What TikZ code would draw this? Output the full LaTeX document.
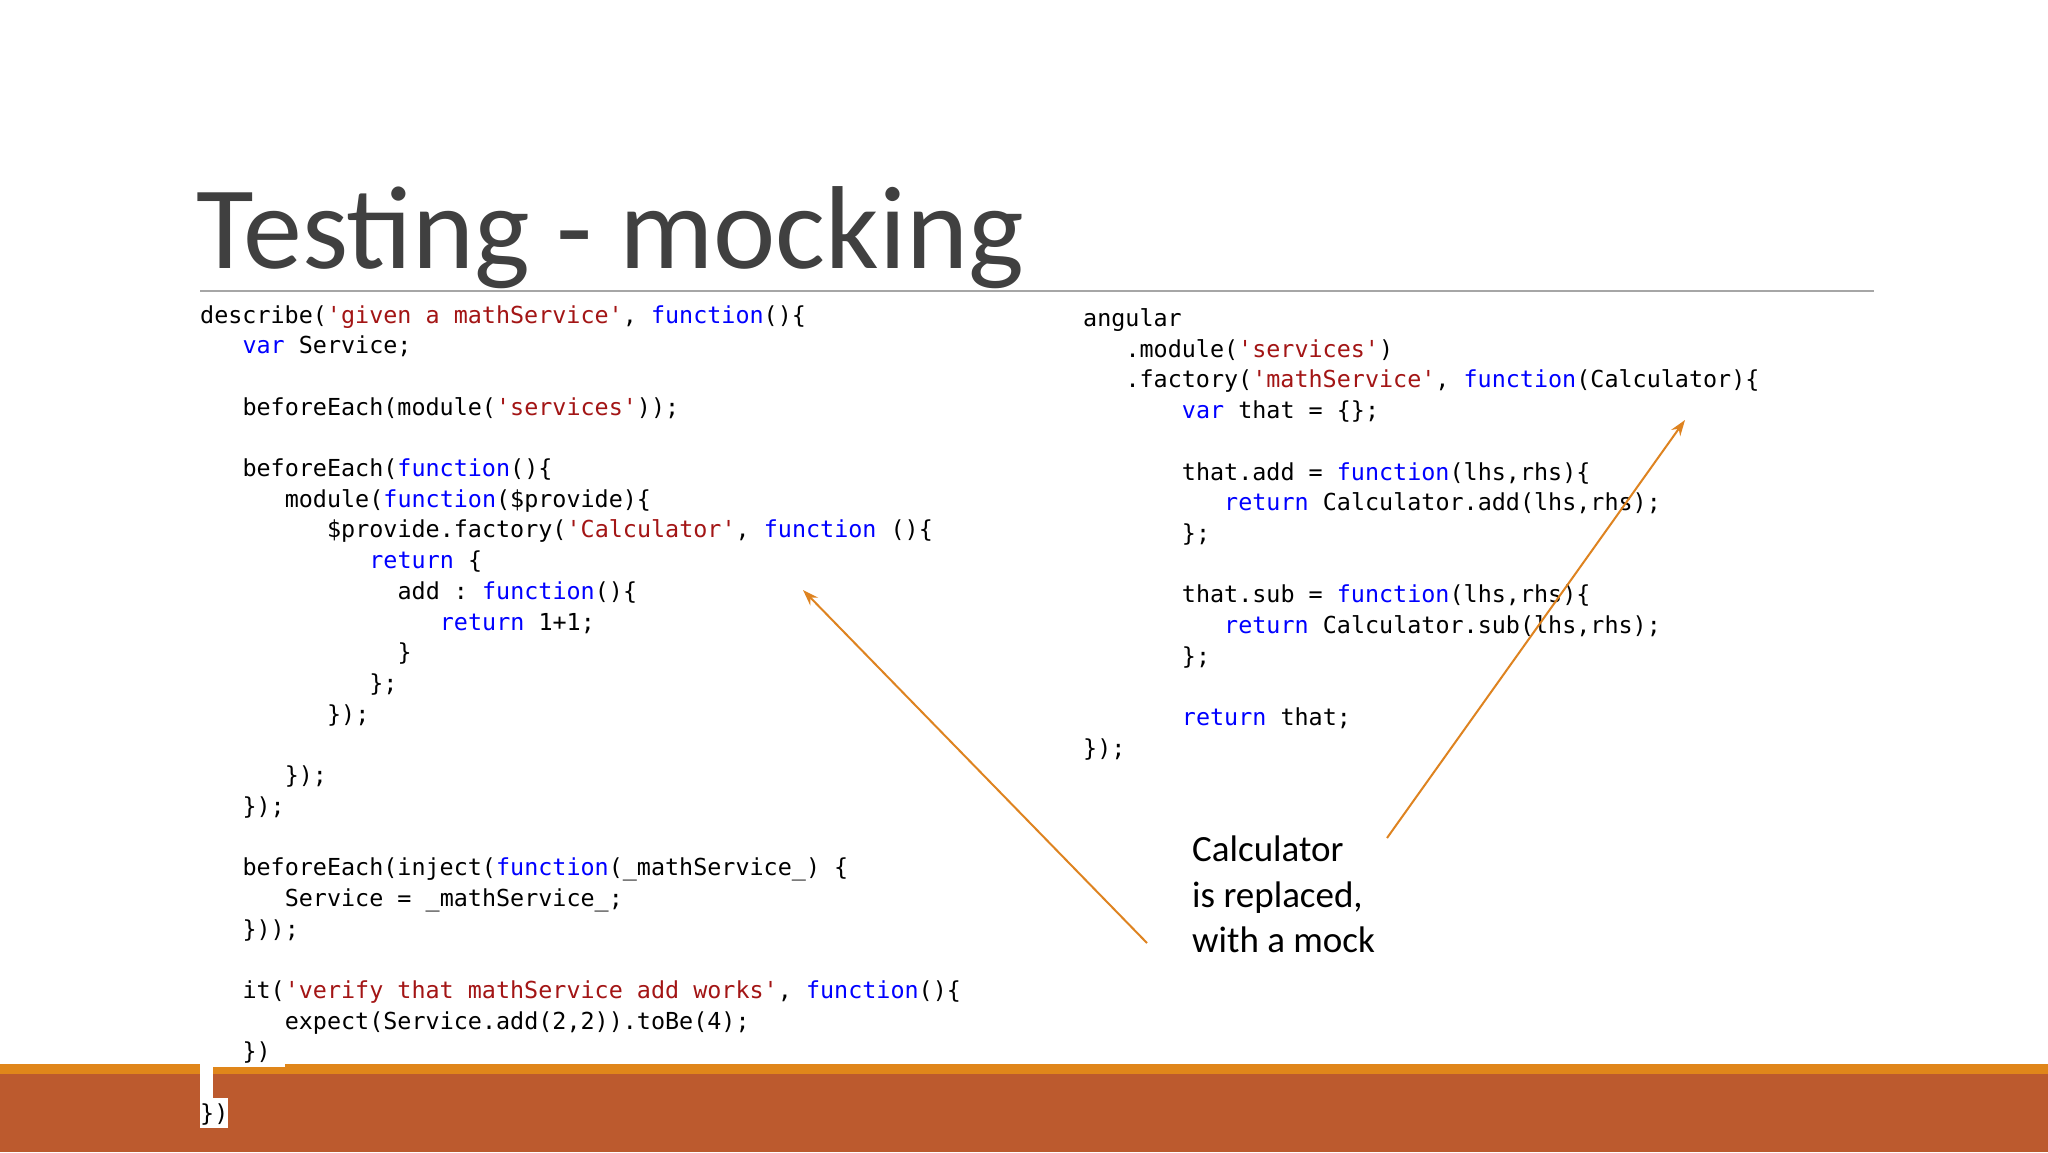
\documentclass[tikz,border=0pt]{standalone}
\usepackage{fontspec}
\setmainfont{Carlito}
\setmonofont{DejaVu Sans Mono}
\definecolor{kw}{HTML}{0000FF}
\definecolor{st}{HTML}{A31515}
\definecolor{band}{HTML}{BC5A2E}
\definecolor{bandtop}{HTML}{E0861A}
\definecolor{arr}{HTML}{DE8320}
\newcommand{\kw}[1]{{\color{kw}#1}}
\newcommand{\st}[1]{{\color{st}#1}}
\tikzset{codeline/.style={anchor=base west,inner sep=0pt,font=\ttfamily\fontsize{23.4}{28}\selectfont,text=black},
  note/.style={anchor=base west,inner sep=0pt,font=\fontsize{37}{44}\selectfont,text=black},
  arrline/.style={draw=arr,line width=2pt,-{Stealth[length=16pt,width=11pt]}}}
\newcommand{\Lc}[3]{\node[codeline] (l#2) at ({200+#1*14.1},{323+#2*30.7}) {#3};}
\newcommand{\Rc}[3]{\node[codeline] (r#2) at ({1083+#1*14.1},{326.5+#2*30.7}) {#3};}
\usetikzlibrary{arrows.meta}
\begin{document}
\begin{tikzpicture}[x=1pt,y=-1pt]
\useasboundingbox (0,0) rectangle (2048,1152);
\fill[white] (0,0) rectangle (2048,1152);
\fill[bandtop] (0,1064) rectangle (2048,1074);
\fill[band] (0,1074) rectangle (2048,1152);
\fill[white] (200,1060) rectangle (213,1100);
\fill[white] (213,1060) rectangle (285,1067);
\fill[white] (200,1098) rectangle (228,1128);
\node[anchor=base west,inner sep=0pt,font=\fontsize{118}{130}\selectfont,text=black!75] (title) at (196,268) {Testing - mocking};
\draw[black!35,line width=1.5pt] (200,291) -- (1874,291);
\Lc{0}{0}{describe(\st{'given a mathService'}, \kw{function}()\{}
\Lc{3}{1}{\kw{var} Service;}
\Lc{3}{3}{beforeEach(module(\st{'services'}));}
\Lc{3}{5}{beforeEach(\kw{function}()\{}
\Lc{6}{6}{module(\kw{function}(\$provide)\{}
\Lc{9}{7}{\$provide.factory(\st{'Calculator'}, \kw{function} ()\{}
\Lc{12}{8}{\kw{return} \{}
\Lc{14}{9}{add : \kw{function}()\{}
\Lc{17}{10}{\kw{return} 1+1;}
\Lc{14}{11}{\}}
\Lc{12}{12}{\};}
\Lc{9}{13}{\});}
\Lc{6}{15}{\});}
\Lc{3}{16}{\});}
\Lc{3}{18}{beforeEach(inject(\kw{function}(\_mathService\_) \{}
\Lc{6}{19}{Service = \_mathService\_;}
\Lc{3}{20}{\}));}
\Lc{3}{22}{it(\st{'verify that mathService add works'}, \kw{function}()\{}
\Lc{6}{23}{expect(Service.add(2,2)).toBe(4);}
\Lc{3}{24}{\})}
\Lc{0}{26}{\})}
\Rc{0}{0}{angular}
\Rc{3}{1}{.module(\st{'services'})}
\Rc{3}{2}{.factory(\st{'mathService'}, \kw{function}(Calculator)\{}
\Rc{7}{3}{\kw{var} that = \{\};}
\Rc{7}{5}{that.add = \kw{function}(lhs,rhs)\{}
\Rc{10}{6}{\kw{return} Calculator.add(lhs,rhs);}
\Rc{7}{7}{\};}
\Rc{7}{9}{that.sub = \kw{function}(lhs,rhs)\{}
\Rc{10}{10}{\kw{return} Calculator.sub(lhs,rhs);}
\Rc{7}{11}{\};}
\Rc{7}{13}{\kw{return} that;}
\Rc{0}{14}{\});}
\node[note] (n1) at (1192,861) {Calculator};
\node[note] (n2) at (1192,907) {is replaced,};
\node[note] (n3) at (1192,952) {with a mock};
\coordinate (a1s) at (1147,943);
\coordinate (a1e) at (803,590);
\coordinate (a2s) at (1387,838);
\coordinate (a2e) at (1685,420);
\draw[arrline] (a1s) -- (a1e);
\draw[arrline] (a2s) -- (a2e);
\end{tikzpicture}
\end{document}
